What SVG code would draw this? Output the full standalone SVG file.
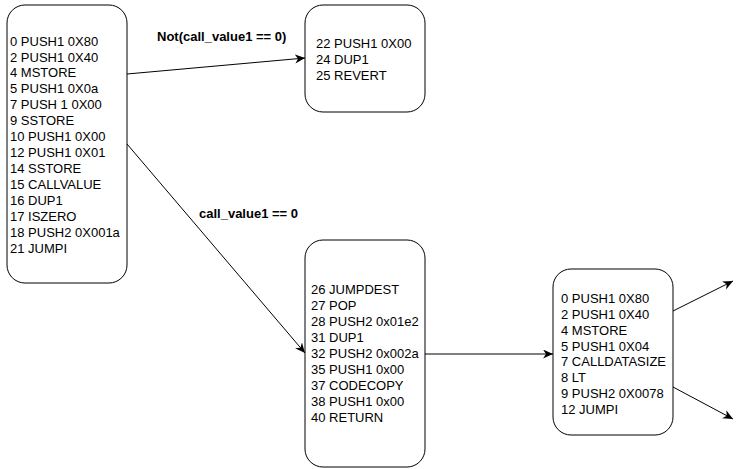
<svg xmlns="http://www.w3.org/2000/svg" width="739" height="469" viewBox="0 0 739 469">
<defs>
<style>
.box{fill:#fff;stroke:#000;stroke-width:1}
.t{font-family:"Liberation Sans",Arial,sans-serif;font-size:13px;fill:#000}
.lbl{font-family:"Liberation Sans",Arial,sans-serif;font-size:13px;font-weight:bold;fill:#000}
.e{fill:none;stroke:#000;stroke-width:1}
</style>
<marker id="arr" markerUnits="userSpaceOnUse" markerWidth="12" markerHeight="10" refX="10" refY="4.5" orient="auto" viewBox="0 0 12 10">
<path d="M0,0 L10,4.5 L0,9 L3,4.5 Z" fill="#000"/>
</marker>
</defs>
<rect width="739" height="469" fill="#fff"/>
<g id="edges">
<path class="e" d="M127,74 L305,58" marker-end="url(#arr)"/>
<path class="e" d="M127,144 L305,353" marker-end="url(#arr)"/>
<path class="e" d="M425,354 L553,354" marker-end="url(#arr)"/>
<path class="e" d="M673,311 L733,281" marker-end="url(#arr)"/>
<path class="e" d="M673,387 L733,419" marker-end="url(#arr)"/>
<text class="lbl" x="157" y="41">Not(call_value1 == 0)</text>
<text class="lbl" x="199" y="218">call_value1 == 0</text>
</g>
<g id="n1">
<rect class="box" x="7" y="5" width="120" height="278" rx="18"/>
<text class="t" x="10" y="46">0 PUSH1 0X80</text>
<text class="t" x="10" y="62">2 PUSH1 0X40</text>
<text class="t" x="10" y="77">4 MSTORE</text>
<text class="t" x="10" y="93">5 PUSH1 0X0a</text>
<text class="t" x="10" y="109">7 PUSH 1 0X00</text>
<text class="t" x="10" y="125">9 SSTORE</text>
<text class="t" x="10" y="141">10 PUSH1 0X00</text>
<text class="t" x="10" y="157">12 PUSH1 0X01</text>
<text class="t" x="10" y="173">14 SSTORE</text>
<text class="t" x="10" y="189">15 CALLVALUE</text>
<text class="t" x="10" y="205">16 DUP1</text>
<text class="t" x="10" y="221">17 ISZERO</text>
<text class="t" x="10" y="237">18 PUSH2 0X001a</text>
<text class="t" x="10" y="253">21 JUMPI</text>
</g>
<g id="n2">
<rect class="box" x="305" y="5" width="120" height="107" rx="18"/>
<text class="t" x="316" y="48">22 PUSH1 0X00</text>
<text class="t" x="316" y="64">24 DUP1</text>
<text class="t" x="316" y="80">25 REVERT</text>
</g>
<g id="n3">
<rect class="box" x="305" y="240" width="120" height="227" rx="18"/>
<text class="t" x="311" y="294">26 JUMPDEST</text>
<text class="t" x="311" y="310">27 POP</text>
<text class="t" x="311" y="326">28 PUSH2 0x01e2</text>
<text class="t" x="311" y="342">31 DUP1</text>
<text class="t" x="311" y="358">32 PUSH2 0x002a</text>
<text class="t" x="311" y="374">35 PUSH1 0x00</text>
<text class="t" x="311" y="390">37 CODECOPY</text>
<text class="t" x="311" y="406">38 PUSH1 0x00</text>
<text class="t" x="311" y="422">40 RETURN</text>
</g>
<g id="n4">
<rect class="box" x="553" y="269" width="120" height="166" rx="18"/>
<text class="t" x="561" y="303">0 PUSH1 0X80</text>
<text class="t" x="561" y="319">2 PUSH1 0X40</text>
<text class="t" x="561" y="335">4 MSTORE</text>
<text class="t" x="561" y="351">5 PUSH1 0X04</text>
<text class="t" x="561" y="366">7 CALLDATASIZE</text>
<text class="t" x="561" y="382">8 LT</text>
<text class="t" x="561" y="398">9 PUSH2 0X0078</text>
<text class="t" x="561" y="414">12 JUMPI</text>
</g>
</svg>
